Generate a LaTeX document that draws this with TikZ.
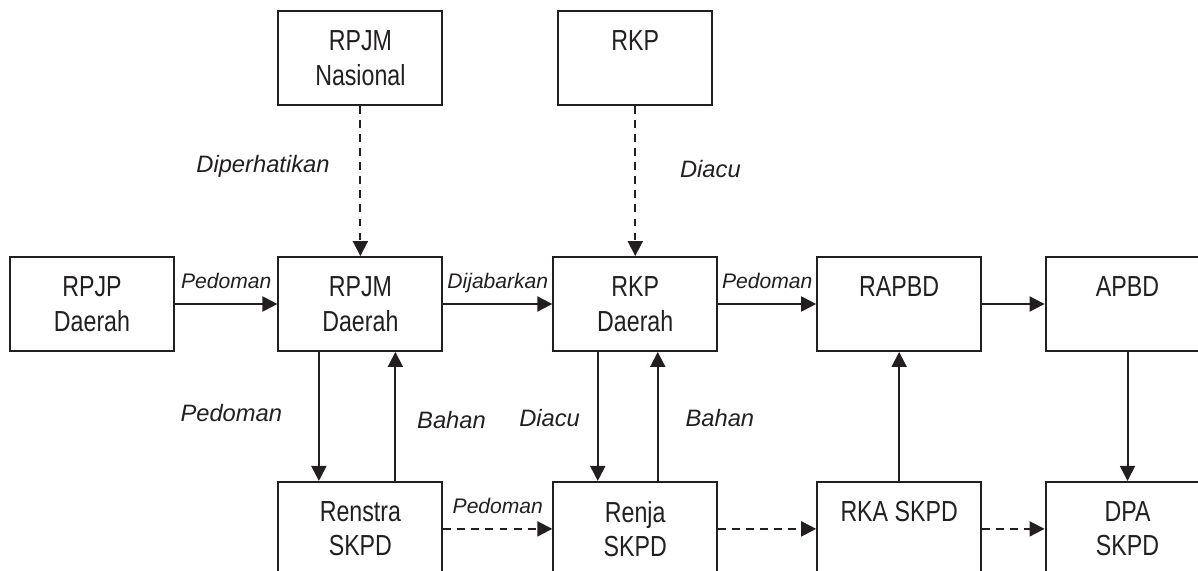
\documentclass[tikz,border=0pt]{standalone}
\usepackage{fontspec}
\setmainfont{Liberation Sans}
\newfontfamily\kotakfont{Liberation Sans}[FakeStretch=0.8]
\usepackage{tikz}
\usetikzlibrary{arrows.meta,positioning}

\definecolor{tinta}{RGB}{35,31,32}

\tikzset{
  kotak/.style={draw=tinta, line width=1.1pt, minimum width=3.28cm, minimum height=1.88cm, align=center, text=tinta, font=\kotakfont\fontsize{16.5}{19.6}\selectfont},
  ket/.style={font=\itshape\fontsize{13.5}{16}\selectfont, text=tinta},
  ketkecil/.style={font=\itshape\fontsize{12}{14}\selectfont, text=tinta, above=5pt, text depth=0pt},
  panah/.style={->, draw=tinta, line width=1.1pt},
  putus/.style={panah, dash pattern=on 4.5pt off 3.5pt}
}

\begin{document}
\begin{tikzpicture}[x=0.02cm, y=-0.02cm, >={Triangle[length=0.3cm,width=0.3cm]}]
        \useasboundingbox (0,0) rectangle (1198,571);
        \clip (0,0) rectangle (1198,571);
        \node[kotak] (rpjpd) at (92,304) {RPJP\\Daerah};
        \node[kotak, right=2.05cm of rpjpd] (rpjmd) {RPJM\\Daerah};
        \node[kotak, right=2.18cm of rpjmd] (rkpd) {RKP\\Daerah};
        \node[kotak, right=1.96cm of rkpd] (rapbd) {RAPBD\\\mbox{}};
        \node[kotak, right=1.25cm of rapbd] (apbd) {APBD\\\mbox{}};
        \node[kotak, above=3cm of rpjmd] (rpjmn) {RPJM\\Nasional};
        \node[kotak, above=3cm of rkpd, minimum width=3.08cm] (rkp) {RKP\\\mbox{}};
        \node[kotak, below=2.58cm of rpjmd] (renstra) {Renstra\\SKPD};
        \node[kotak, below=2.58cm of rkpd] (renja) {Renja\\SKPD};
        \node[kotak, below=2.58cm of rapbd] (rka) {RKA SKPD\\\mbox{}};
        \node[kotak, below=2.58cm of apbd] (dpa) {DPA\\SKPD};
        \draw[panah] (rpjpd) -- node[ketkecil] {Pedoman} (rpjmd);
        \draw[panah] (rpjmd) -- node[ketkecil] {Dijabarkan} (rkpd);
        \draw[panah] (rkpd) -- node[ketkecil] {Pedoman} (rapbd);
        \draw[panah] (rapbd) -- (apbd);
        \draw[putus] (rpjmn) -- node[ket, pos=0.4, left=0.48cm] {Diperhatikan} (rpjmd);
        \draw[putus] (rkp) -- node[ket, pos=0.42, right=0.76cm] {Diacu} (rkpd);
        \draw[panah] ([xshift=-0.83cm]rpjmd.south) -- node[ket, pos=0.47, left=0.6cm] {Pedoman} ([xshift=-0.83cm]renstra.north);
        \draw[panah] ([xshift=0.7cm]renstra.north) -- node[ket, pos=0.47, right=0.3cm] {Bahan} ([xshift=0.7cm]rpjmd.south);
        \draw[panah] ([xshift=-0.75cm]rkpd.south) -- node[ket, pos=0.51, left=0.22cm] {Diacu} ([xshift=-0.75cm]renja.north);
        \draw[panah] ([xshift=0.45cm]renja.north) -- node[ket, pos=0.49, right=0.42cm] {Bahan} ([xshift=0.45cm]rkpd.south);
        \draw[panah] (rka) -- (rapbd);
        \draw[panah] (apbd) -- (dpa);
        \draw[putus] (renstra) -- node[ketkecil] {Pedoman} (renja);
        \draw[putus] (renja) -- (rka);
        \draw[putus] (rka) -- (dpa);
    \end{tikzpicture}
\end{document}
